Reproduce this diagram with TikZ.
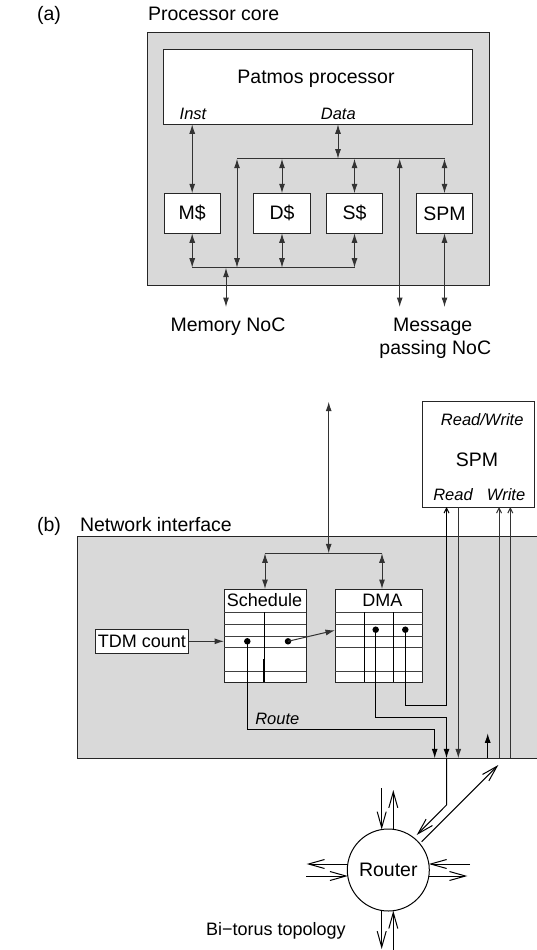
\documentclass[tikz,border=0pt]{standalone}
\usepackage{fontspec}
\setmainfont{Liberation Sans}
\usetikzlibrary{arrows.meta,calc}
\begin{document}
\begin{tikzpicture}[x=1pt,y=-1pt,
  every node/.style={inner sep=0pt,outer sep=0pt},
  big/.style={font=\fontsize{19.5}{22}\selectfont},
  mid/.style={font=\fontsize{18}{21}\selectfont},
  lab/.style={font=\fontsize{16.5}{19}\selectfont\itshape},
  panel/.style={draw=black!85,fill=black!15,line width=1pt},
  wbox/.style={draw=black!85,fill=white,line width=1pt},
  wire/.style={draw=black!80,line width=1pt},
  grid/.style={draw=black!75,line width=0.9pt},
  ftip/.tip={Latex[length=9.5pt,width=6pt]},
  otip/.tip={Straight Barb[length=5pt,width=5pt]},
  rtip/.tip={Straight Barb[length=16pt,width=9pt]},
  dbl/.style={wire,ftip-ftip},
  onearr/.style={wire,-ftip},
  openarr/.style={wire,-otip},
  rarr/.style={wire,-rtip},
  blackdot/.style={circle,fill=black,minimum size=6.5pt},
]
\useasboundingbox (0,0) rectangle (536,950);

% ---------------- (a) ----------------
\node[big,anchor=base] (la) at (49,21) {(a)};
\node[big,anchor=base west] (lcore) at (148,20.7) {Processor core};
\node[panel,minimum width=341.3pt,minimum height=253.4pt] (core) at (318.5,159) {};
\node[wbox,minimum width=308.7pt,minimum height=74.6pt] (patmos) at (318.3,87) {};
\node[big,anchor=base] (tpat) at (316,84) {Patmos processor};
\node[lab,anchor=base] (tinst) at (193,119) {Inst};
\node[lab,anchor=base] (tdata) at (338.3,119) {Data};
\node[wbox,big,minimum width=56.3pt,minimum height=40pt] (mc) at (192.2,213.3) {M\$};
\node[wbox,big,minimum width=56.3pt,minimum height=40pt] (dc) at (282,213.3) {D\$};
\node[wbox,big,minimum width=56.3pt,minimum height=40pt] (sc) at (354.5,213.3) {S\$};
\node[wbox,big,minimum width=56.3pt,minimum height=40pt] (spma) at (444.5,213.3) {SPM};

\coordinate (ubL) at (237,158.7);
\coordinate (ubR) at (444.5,158.7);
\coordinate (lbL) at (192.2,267.7);
\coordinate (lbR) at (354.5,267.7);
\coordinate (dtap) at (338,158.7);
\coordinate (msgtap) at (399.7,158.7);
\coordinate (msgend) at (399.7,307);
\coordinate (memtap) at (226,267.7);
\coordinate (memend) at (226,307);
\coordinate (spmend) at (444.5,307);

\draw[wire] (ubL) -- (ubR);
\draw[wire] (lbL) -- (lbR);
\draw[dbl] (patmos.south -| mc.north) -- (mc.north);
\draw[dbl] (patmos.south -| dtap) -- (dtap);
\draw[dbl] (ubL) -- (ubL |- lbL);
\draw[dbl] (dc.north |- ubL) -- (dc.north);
\draw[dbl] (sc.north |- ubL) -- (sc.north);
\draw[dbl] (ubR) -- (spma.north);
\draw[dbl] (msgtap) -- (msgend);
\draw[dbl] (mc.south) -- (lbL);
\draw[dbl] (dc.south) -- (dc.south |- lbL);
\draw[dbl] (sc.south) -- (lbR);
\draw[dbl] (memtap) -- (memend);
\draw[dbl] (spma.south) -- (spmend);

\node[big,anchor=base] (tmem) at (228,331.7) {Memory NoC};
\node[big,anchor=base] (tmsg1) at (432.7,331.7) {Message};
\node[big,anchor=base] (tmsg2) at (435.3,354) {passing NoC};

% ---------------- (b) ----------------
\node[big,anchor=base] (lb) at (49,531) {(b)};
\node[big,anchor=base west] (lni) at (80,531) {Network interface};
\node[panel,minimum width=460.2pt,minimum height=222.3pt] (ni) at (307.4,647.15) {};
\node[wbox,minimum width=111.3pt,minimum height=105.3pt] (spmb) at (478.35,454.35) {};
\node[lab,anchor=base] (trw) at (482.2,425) {Read/Write};
\node[big,anchor=base] (tspmb) at (477,466.7) {SPM};
\node[lab,anchor=base] (trd) at (453,500.7) {Read};
\node[lab,anchor=base] (twr) at (506,500.7) {Write};

\coordinate (ext) at (328.7,401.7);
\coordinate (bus) at (328.7,553.3);
\coordinate (busL) at (265,553.3);
\coordinate (busR) at (382,553.3);
\draw[dbl] (ext) -- (bus);
\draw[wire] (busL) -- (busR);

\node[wbox,minimum width=82pt,minimum height=93.3pt] (sched) at (265,635.65) {};
\node[wbox,minimum width=87.7pt,minimum height=93.3pt] (dma) at (378.85,635.65) {};
\node[mid,anchor=base] (tsched) at (264.5,606.7) {Schedule};
\node[mid,anchor=base] (tdma) at (382.3,606.7) {DMA};
\draw[dbl] (busL) -- (busL |- sched.north);
\draw[dbl] (busR) -- (busR |- dma.north);

\foreach \yy in {612.3,624.3,636,647.3,671} {
  \draw[grid] (sched.west |- 0,\yy) -- (sched.east |- 0,\yy);
  \draw[grid] (dma.west |- 0,\yy) -- (dma.east |- 0,\yy);
}
\draw[wire,black] (264.3,612.3) -- (264.3,682.3);
\draw[black,line width=2.2pt] (264.3,659.3) -- (264.3,682.3);
\draw[wire,black] (364.3,612.3) -- (364.3,682.3);
\draw[wire,black] (393.7,612.3) -- (393.7,682.3);

\node[blackdot] (d1) at (247.3,641.3) {};
\node[blackdot] (d2) at (288,641.3) {};
\node[blackdot] (d3) at (375.7,629.7) {};
\node[blackdot] (d4) at (405.3,629.7) {};

\node[wbox,mid,minimum width=93.7pt,minimum height=24pt] (tdm) at (141.85,641.3) {TDM count};
\draw[onearr] (tdm.east) -- (tdm.east -| sched.west);
\draw[onearr] (d2.center) -- (dma.west |- 0,630.3);

\coordinate (n1) at (434.7,758.3);
\coordinate (n2) at (446.5,758.3);
\coordinate (n3) at (458.3,758.3);
\coordinate (n4) at (487.7,758.3);
\coordinate (n5) at (499,758.3);
\coordinate (n6) at (510.3,758.3);
\coordinate (n4top) at (487.7,733.3);

\draw[onearr,black] (d1.center) |- (n1 |- 0,729.3) -- (n1);
\node[lab,anchor=base] (troute) at (277.3,724) {Route};
\draw[onearr,black] (d3.center) |- (n2 |- 0,717.3) -- (n2);
\draw[openarr,black] (d4.center) |- (n2 |- 0,705) -- (n2 |- spmb.south);
\draw[onearr] (n3 |- spmb.south) -- (n3);
\draw[onearr,black] (n4) -- (n4top);
\draw[openarr] (n5) -- (n5 |- spmb.south);
\draw[openarr] (n6) -- (n6 |- spmb.south);

% ---------------- Router ----------------
\node[circle,draw=black,line width=1pt,minimum size=82pt,big] (router) at (388.3,870) {Router};
\coordinate (bend) at (446.5,805);
\coordinate (rin) at (416.7,835);
\coordinate (rout) at (421.7,841.7);
\coordinate (wend) at (498.3,765);
\draw[rarr,black] (n2) -- (bend) -- (rin);
\draw[rarr,black] (rout) -- (wend);

\draw[rarr,black] ($(router.north)+(-6.6,-41)$) -- ($(router.north)+(-6.6,0.5)$);
\draw[rarr,black] ($(router.north)+(5,0.3)$) -- ($(router.north)+(5,-39)$);
\draw[rarr,black] ($(router.south)+(-6.6,-0.5)$) -- ($(router.south)+(-6.6,38)$);
\draw[rarr,black] ($(router.south)+(5,39)$) -- ($(router.south)+(5,-0.3)$);
\draw[rarr,black] ($(router.west)+(0.5,-6)$) -- ($(router.west)+(-40.6,-6)$);
\draw[rarr,black] ($(router.west)+(-41.3,6)$) -- ($(router.west)+(0.5,6)$);
\draw[rarr,black] ($(router.east)+(40.7,-6)$) -- ($(router.east)+(-0.5,-6)$);
\draw[rarr,black] ($(router.east)+(-0.5,6)$) -- ($(router.east)+(38,6)$);

\node[mid,anchor=base] (ttopo) at (275.8,935) {Bi−torus topology};
\end{tikzpicture}
\end{document}
